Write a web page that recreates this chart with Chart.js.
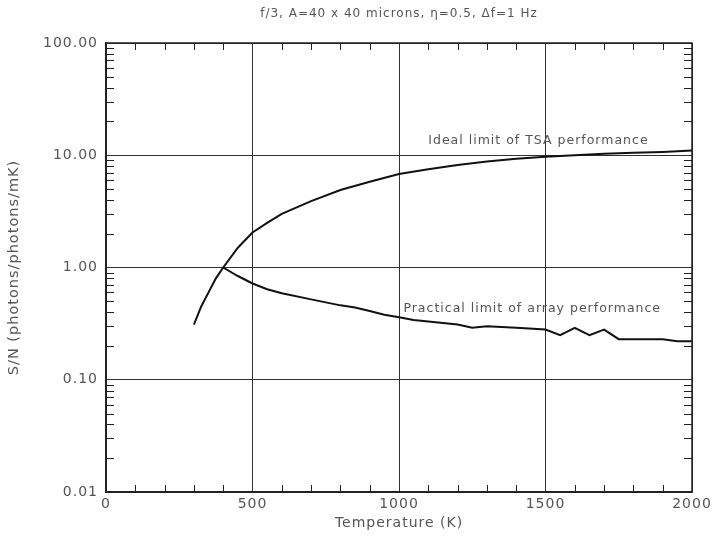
<!DOCTYPE html>
<html>
<head>
<meta charset="utf-8">
<script src="https://cdn.jsdelivr.net/npm/chart.js@4"></script>
<style>
  body { margin: 0; background: #fff; }
  #wrap { width: 717px; height: 544px; }
</style>
</head>
<body>
<div id="wrap"><canvas id="myChart" width="717" height="544"></canvas></div>
<script>
// values
const idealTemps = [300, 325, 350, 375, 400, 450, 500, 550, 600, 700, 800, 900, 1000, 1100, 1200, 1300, 1400, 1500, 1600, 1700, 1800, 1900, 2000];
const idealSN = [0.31, 0.45, 0.6, 0.8, 1.0, 1.5, 2.05, 2.5, 3.0, 3.9, 4.9, 5.8, 6.8, 7.5, 8.2, 8.8, 9.3, 9.7, 10.0, 10.3, 10.5, 10.7, 11.0];
const practicalTemps = [400, 450, 500, 550, 600, 700, 800, 850, 900, 950, 1000, 1050, 1100, 1200, 1250, 1300, 1400, 1500, 1550, 1600, 1650, 1700, 1750, 1800, 1900, 1950, 2000];
const practicalSN = [1.0, 0.84, 0.72, 0.64, 0.59, 0.52, 0.46, 0.44, 0.41, 0.38, 0.36, 0.34, 0.33, 0.31, 0.29, 0.30, 0.29, 0.28, 0.25, 0.29, 0.25, 0.28, 0.23, 0.23, 0.23, 0.22, 0.22];

const xTicks = [0, 500, 1000, 1500, 2000];
const yTicks = [0.01, 0.1, 1, 10, 100];

const titleText = 'f/3, A=40 x 40 microns, \u03b7=0.5, \u0394f=1 Hz';
const idealLabel = 'Ideal limit of TSA performance';
const practicalLabel = 'Practical limit of array performance';

const textColor = '#555';
const fontFam = '"DejaVu Sans", sans-serif';

const toPoints = (xs, ys) => xs.map((x, i) => ({ x: x, y: ys[i] }));

// the old plot font is wide, so space the letters out a bit
const spacing = {
    id: 'spacing',
    beforeLayout: (chart) => { chart.ctx.letterSpacing = '1px'; },
    beforeDraw: (chart) => { chart.ctx.letterSpacing = '1px'; }
};

// title over the plot box, minor ticks, frame and curve labels
const decor = {
    id: 'decor',
    afterDatasetsDraw: (chart) => {
        const ctx = chart.ctx;
        const a = chart.chartArea;
        const xs = chart.scales.x;
        const ys = chart.scales.y;
        ctx.save();
        ctx.strokeStyle = '#222';
        ctx.lineWidth = 1;
        ctx.beginPath();
        for (let t = 100; t < 2000; t += 100) {
            if (t % 500 === 0) continue;
            const px = Math.round(xs.getPixelForValue(t)) + 0.5;
            ctx.moveTo(px, a.bottom); ctx.lineTo(px, a.bottom - 7);
            ctx.moveTo(px, a.top); ctx.lineTo(px, a.top + 7);
        }
        for (let d = 0; d < yTicks.length - 1; d++) {
            for (let m = 2; m < 10; m++) {
                const py = Math.round(ys.getPixelForValue(yTicks[d] * m)) + 0.5;
                ctx.moveTo(a.left, py); ctx.lineTo(a.left + 8, py);
                ctx.moveTo(a.right, py); ctx.lineTo(a.right - 8, py);
            }
        }
        ctx.stroke();
        ctx.lineWidth = 1.5;
        ctx.strokeStyle = '#222';
        ctx.strokeRect(a.left, a.top, a.right - a.left, a.bottom - a.top);

        ctx.fillStyle = textColor;
        ctx.letterSpacing = '1px';
        ctx.textBaseline = 'middle';
        ctx.font = '12px ' + fontFam;
        ctx.textAlign = 'center';
        ctx.fillText(titleText, (a.left + a.right) / 2, 14);

        ctx.font = '12.5px ' + fontFam;
        ctx.textAlign = 'left';
        ctx.fillText(idealLabel, xs.getPixelForValue(1100), ys.getPixelForValue(13.5));
        ctx.fillText(practicalLabel, xs.getPixelForValue(1015), ys.getPixelForValue(0.43));
        ctx.restore();
    }
};

const ctx = document.getElementById('myChart').getContext('2d');
const myChart = new Chart(ctx, {
    type: 'line',
    plugins: [spacing, decor],
    data: {
        datasets: [{
            label: idealLabel,
            data: toPoints(idealTemps, idealSN),
            borderColor: '#111',
            borderWidth: 2,
            pointRadius: 0,
            fill: false,
            tension: 0
        }, {
            label: practicalLabel,
            data: toPoints(practicalTemps, practicalSN),
            borderColor: '#111',
            borderWidth: 2,
            pointRadius: 0,
            fill: false,
            tension: 0
        }]
    },
    options: {
        responsive: false,
        animation: false,
        layout: { padding: { left: 0, right: 25, top: 43, bottom: 0 } },
        plugins: {
            legend: { display: false },
            tooltip: { enabled: false },
            title: { display: false }
        },
        scales: {
            x: {
                type: 'linear',
                min: 0,
                max: 2000,
                afterBuildTicks: (scale) => { scale.ticks = xTicks.map(v => ({ value: v })); },
                afterFit: (scale) => { scale.height = 52; },
                ticks: {
                    color: textColor,
                    font: { family: fontFam, size: 14 },
                    padding: 4,
                    maxRotation: 0,
                    callback: (v) => String(v)
                },
                grid: { color: '#333', lineWidth: 1, drawTicks: false },
                border: { color: '#222', width: 1.5 },
                title: {
                    display: true,
                    text: 'Temperature (K)',
                    color: textColor,
                    font: { family: fontFam, size: 14 },
                    padding: { top: 0, bottom: 12 }
                }
            },
            y: {
                type: 'logarithmic',
                min: 0.01,
                max: 100,
                afterBuildTicks: (scale) => { scale.ticks = yTicks.map(v => ({ value: v })); },
                afterFit: (scale) => { scale.width = 106; },
                ticks: {
                    color: textColor,
                    font: { family: fontFam, size: 14 },
                    padding: 8,
                    callback: (v) => Number(v).toFixed(2)
                },
                grid: { color: '#333', lineWidth: 1, drawTicks: false },
                border: { color: '#222', width: 1.5 },
                title: {
                    display: true,
                    text: 'S/N (photons/photons/mK)',
                    color: textColor,
                    font: { family: fontFam, size: 14.5 },
                    padding: { top: 6, bottom: 0 }
                }
            }
        }
    }
});
</script>
</body>
</html>
